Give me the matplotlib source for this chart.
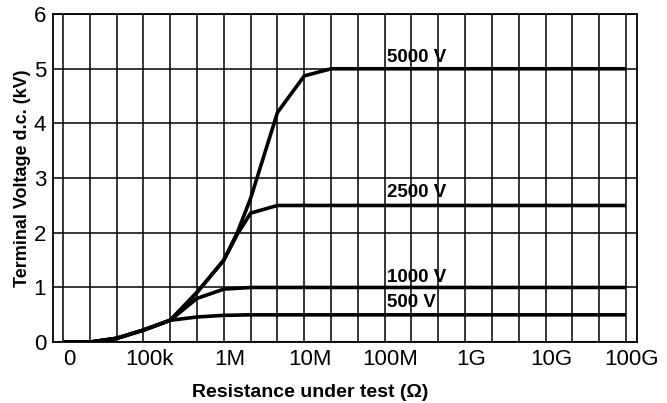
import matplotlib
matplotlib.use("Agg")
import matplotlib.pyplot as plt
import matplotlib.transforms as mtransforms

plt.rcParams['font.family'] = ['Liberation Sans', 'DejaVu Sans']

# x position in grid steps (3 steps per decade), y in kV
tick_labels = ['0', '100k', '1M', '10M', '100M', '1G', '10G', '100G']
tick_steps = [0, 3, 6, 9, 12, 15, 18, 21]

x_500 = [0, 1, 2, 3, 4, 5, 6, 7, 21]
y_500 = [0, 0, 0.07, 0.22, 0.4, 0.46, 0.49, 0.5, 0.5]

x_1000 = [0, 1, 2, 3, 4, 5, 6, 7, 21]
y_1000 = [0, 0, 0.07, 0.22, 0.4, 0.8, 0.97, 1.0, 1.0]

x_2500 = [0, 1, 2, 3, 4, 5, 6, 6.5, 7, 8, 21]
y_2500 = [0, 0, 0.07, 0.22, 0.4, 0.91, 1.5, 1.97, 2.36, 2.5, 2.5]

x_5000 = [0, 1, 2, 3, 4, 5, 6, 6.5, 7, 8, 9, 10, 21]
y_5000 = [0, 0, 0.07, 0.22, 0.4, 0.91, 1.5, 2.0, 2.63, 4.2, 4.87, 5.0, 5.0]

series_labels = ['500 V', '1000 V', '2500 V', '5000 V']
label_y = [0.73, 1.19, 2.74, 5.2]

fig = plt.figure(figsize=(6.67, 4.03), dpi=100)
ax = fig.add_axes([0.0795, 0.151, 0.8755, 0.814])

for xs, ys in [(x_500, y_500), (x_1000, y_1000), (x_2500, y_2500), (x_5000, y_5000)]:
    ax.plot(xs, ys, color='black', lw=2.6, solid_capstyle='butt', zorder=3)

for lab, ly in zip(series_labels, label_y):
    ax.text(12.1, ly, lab, fontsize=13.5, fontweight='bold', va='center', ha='left')

ax.set_xlim(-0.37, 21.41)
ax.set_ylim(0, 6)
ax.set_xticks(tick_steps)
ax.set_xticklabels(tick_labels, fontsize=16)
ax.set_xticks(range(22), minor=True)
ax.set_yticks(range(7))
ax.set_yticklabels([str(v) for v in range(7)], fontsize=16)
ax.tick_params(which='both', length=0)
ax.tick_params(axis='x', pad=5)
ax.tick_params(axis='y', pad=5)

# the labels in the original sit a bit right of their grid lines
shift = mtransforms.ScaledTranslation(0.06, 0, fig.dpi_scale_trans)
for t in ax.get_xticklabels():
    t.set_transform(t.get_transform() + shift)

ax.grid(True, axis='x', which='both', color='black', lw=1.1)
ax.grid(True, axis='y', which='major', color='black', lw=1.1)
for s in ax.spines.values():
    s.set_linewidth(1.3)

ax.set_xlabel('Resistance under test (\u03a9)', fontsize=14, fontweight='bold')
ax.xaxis.set_label_coords(0.441, -0.128)
ax.set_ylabel('Terminal Voltage d.c. (kV)', fontsize=13, fontweight='bold')
ax.yaxis.set_label_coords(-0.037, 0.5)

fig.savefig('out.png', dpi=100)
